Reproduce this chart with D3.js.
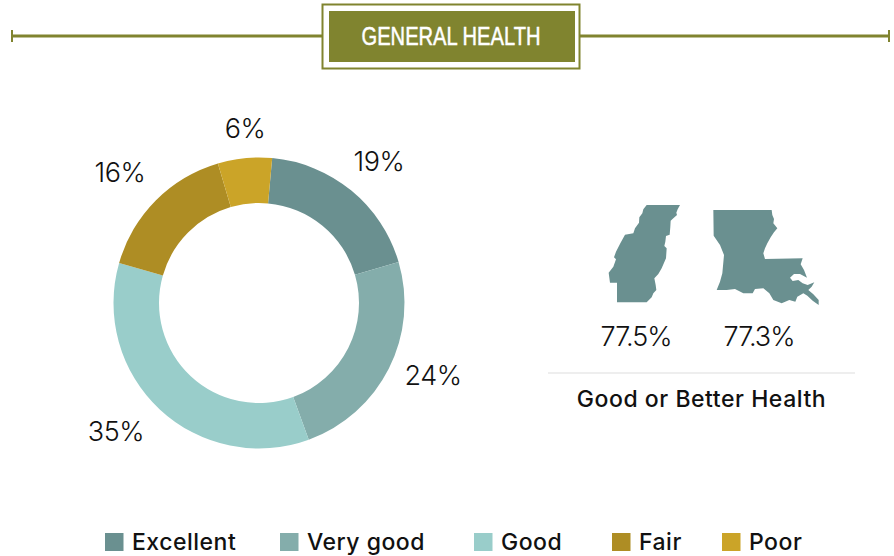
<!DOCTYPE html>
<html><head><meta charset="utf-8">
<script src="https://cdn.jsdelivr.net/npm/d3@7"></script>
<style>html,body{margin:0;padding:0;background:#fff}svg{display:block}</style></head>
<body><svg id="c" width="894" height="556"></svg>
<script>
const categories = ["Excellent","Very good","Good","Fair","Poor"];
const values = [19,24,35,16,6];
const colors = ["#6a9090","#84adab","#99cdca","#ae8d24","#cba428"];
const sliceLabels = ["19%","24%","35%","16%","6%"];
const title = "GENERAL HEALTH";
const stateValues = ["77.5%","77.3%"];
const caption = "Good or Better Health";
const mississippi = [[125,15],[225,15],[218,28],[214,38],[216,45],[205,55],[197,62],[196,80],[194,104],[183,108],[181,125],[178,138],[185,145],[183,175],[170,205],[160,222],[148,235],[152,255],[154,270],[145,280],[140,292],[125,307],[36,307],[36,248],[15,248],[11,218],[25,200],[33,178],[27,172],[33,155],[46,130],[60,104],[85,100],[90,85],[102,68],[103,52],[112,40],[115,28]];
const louisiana = [[10,15],[185,15],[187,30],[192,42],[190,55],[202,70],[192,82],[182,97],[172,115],[165,130],[160,145],[165,162],[278,160],[272,178],[282,195],[291,218],[270,207],[252,207],[240,218],[248,228],[265,225],[278,235],[293,240],[313,232],[305,245],[295,255],[310,268],[326,285],[326,300],[308,287],[292,272],[280,265],[262,275],[256,290],[238,285],[215,295],[190,285],[178,265],[160,250],[135,252],[128,265],[100,265],[75,252],[50,255],[20,255],[30,230],[37,205],[42,150],[30,120],[11,92]];

// layout
const legendX = [105,280,474,612,722];
const labelPos = [[120,-142],[174,72],[-143,128],[-139,-131],[-14,-175]];

const svg = d3.select("#c");
const olive = "#80842f";
const bodyFont = "Inter, 'Open Sans', sans-serif";

// header
svg.append("line").attr("x1",12).attr("x2",322).attr("y1",36).attr("y2",36).attr("stroke",olive).attr("stroke-width",2.8);
svg.append("line").attr("x1",579).attr("x2",889).attr("y1",36).attr("y2",36).attr("stroke",olive).attr("stroke-width",2.8);
[12,889].forEach(x=>svg.append("line").attr("x1",x).attr("x2",x).attr("y1",30).attr("y2",42).attr("stroke",olive).attr("stroke-width",2));
svg.append("rect").attr("x",322.5).attr("y",4.5).attr("width",257).attr("height",64).attr("fill","#fff").attr("stroke",olive).attr("stroke-width",2);
svg.append("rect").attr("x",329).attr("y",11).attr("width",246).attr("height",51).attr("fill",olive);
svg.append("text").attr("x",451).attr("y",45).attr("text-anchor","middle").attr("fill","#fff").attr("stroke","#fff").attr("stroke-width",0.5)
  .attr("font-family","'Liberation Sans Narrow','Liberation Sans',sans-serif").attr("font-size",26).attr("textLength",179).attr("lengthAdjust","spacingAndGlyphs").text(title);

// donut
const startAngle = 5.2*Math.PI/180;
const pie = d3.pie().sort(null).startAngle(startAngle).endAngle(startAngle+2*Math.PI);
const arcs = pie(values);
const arc = d3.arc().innerRadius(100).outerRadius(145.5);
const g = svg.append("g").attr("transform","translate(259,303)");
g.selectAll("path").data(arcs).join("path").attr("d",arc).attr("fill",(d,i)=>colors[i]);
g.selectAll("text").data(arcs).join("text")
  .attr("transform",(d,i)=>`translate(${labelPos[i]})`)
  .attr("text-anchor","middle").attr("dy","0.36em")
  .attr("font-family",bodyFont).attr("font-weight",300).attr("font-size",27).attr("letter-spacing",-0.4).attr("fill","#111")
  .text((d,i)=>sliceLabels[i]);

// states
const px = d3.scaleLinear().domain([0,3]).range([0,1]);
const shape = (ox,oy)=>d3.line().x(d=>ox+px(d[0])).y(d=>oy+px(d[1])).curve(d3.curveLinearClosed);
svg.append("path").attr("d",shape(605,200)(mississippi)).attr("fill",colors[0]);
svg.append("path").attr("d",shape(710,205)(louisiana)).attr("fill",colors[0]);
[636,759].forEach((x,i)=>svg.append("text").attr("x",x).attr("y",346).attr("text-anchor","middle")
  .attr("font-family",bodyFont).attr("font-weight",300).attr("font-size",27).attr("letter-spacing",-1).attr("fill","#111").text(stateValues[i]));
svg.append("line").attr("x1",548).attr("x2",855).attr("y1",373).attr("y2",373).attr("stroke","#ddd").attr("stroke-width",1);
svg.append("text").attr("x",701.5).attr("y",407).attr("text-anchor","middle").attr("font-family",bodyFont).attr("font-weight",500).attr("font-size",23).attr("letter-spacing",0.55).attr("fill","#111").text(caption);

// legend
const lg = svg.selectAll("g.l").data(categories).join("g").attr("class","l").attr("transform",(d,i)=>`translate(${legendX[i]},533)`);
lg.append("rect").attr("width",18.5).attr("height",18).attr("fill",(d,i)=>colors[i]);
lg.append("text").attr("x",27).attr("y",17).attr("font-family",bodyFont).attr("font-weight",500).attr("font-size",23).attr("letter-spacing",0.5).attr("fill","#111").text(d=>d);
</script></body></html>
